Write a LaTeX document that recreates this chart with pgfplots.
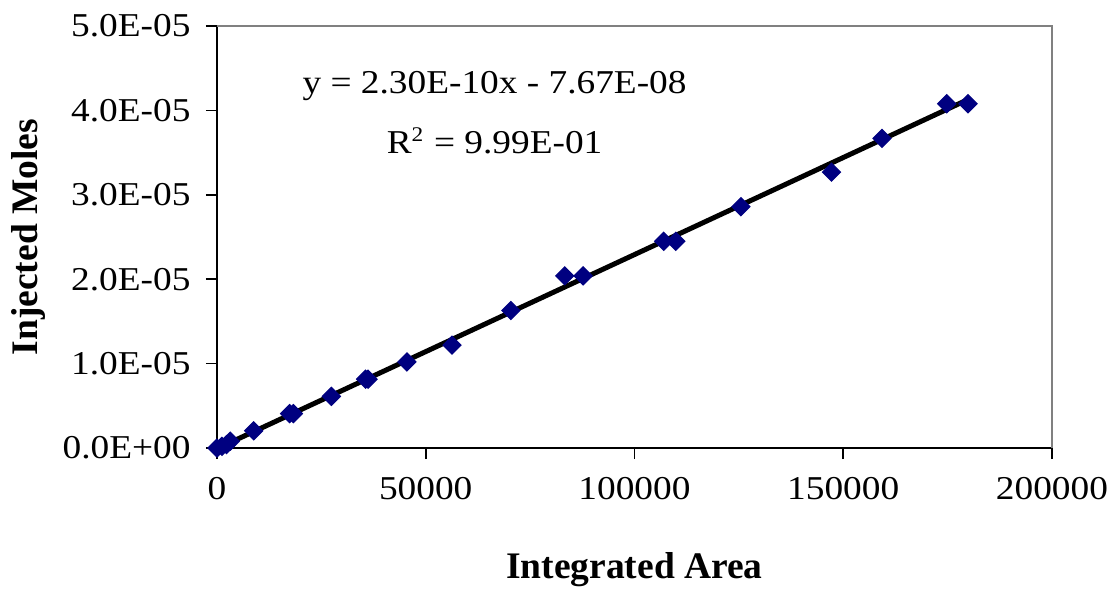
\documentclass[border=0pt]{standalone}
\usepackage{fontspec}
\setmainfont{Liberation Serif}
\newfontfamily\tickfont{Liberation Serif}[FakeStretch=1.12]
\usepackage{pgfplots}
\pgfplotsset{compat=1.18}
\usetikzlibrary{calc}
\definecolor{mknavy}{HTML}{000080}
\definecolor{framegray}{HTML}{808080}

\begin{document}
\begin{tikzpicture}
\begin{axis}[
  name=ax,
  scale only axis, width=300.6pt, height=151.9pt,
  xmin=0, xmax=200000, ymin=0, ymax=5e-5,
  axis lines*=left, axis line style={black, line width=0.7pt},
  tick align=outside, major tick length=4pt,
  tick style={black, line width=0.6pt},
  xtick={0,50000,100000,150000,200000},
  xticklabels={0,50000,100000,150000,200000},
  ytick={0,1e-5,2e-5,3e-5,4e-5,5e-5},
  yticklabels={0.0E+00,1.0E-05,2.0E-05,3.0E-05,4.0E-05,5.0E-05},
  scaled x ticks=false, scaled y ticks=false,
  tick label style={font=\tickfont\fontsize{12}{14}\selectfont},
  xticklabel style={yshift=-3.1pt},
  yticklabel style={xshift=-2pt},
  xlabel={Integrated Area}, ylabel={Injected Moles},
  label style={font=\bfseries\fontsize{13.5}{15}\selectfont},
  xlabel style={at={(axis description cs:0.5,-0.289)}, anchor=center},
  ylabel style={at={(axis description cs:-0.226,0.5)}, anchor=center},
  clip=false,
]
\draw[framegray, line width=0.6pt] (rel axis cs:0,1) -- (rel axis cs:1,1) -- (rel axis cs:1,0);
% trendline
\addplot[black, line width=1.8pt, no marks] coordinates {(0,-7.67e-8) (179900,4.130e-5)};
% measured points
\addplot[only marks, mark=square*, mark size=2.3pt, mark options={rotate=45, fill=mknavy, draw=mknavy}]
coordinates {
(0,0) (1200,2.04e-7) (2300,4.08e-7) (3200,8.16e-7)
(8800,2.04e-6) (17400,4.08e-6) (18300,4.08e-6)
(27400,6.12e-6) (35600,8.16e-6) (36200,8.16e-6)
(45500,1.02e-5) (56300,1.22e-5) (70400,1.63e-5)
(83300,2.04e-5) (87700,2.04e-5) (107000,2.45e-5) (109900,2.45e-5)
(125500,2.86e-5) (147200,3.27e-5) (159300,3.67e-5)
(174800,4.08e-5) (179900,4.08e-5)
};
\node[font=\tickfont\fontsize{12}{14}\selectfont] at (axis cs:66500,4.29e-5) {y = 2.30E-10x - 7.67E-08};
\node[font=\tickfont\fontsize{12}{14}\selectfont] at (axis cs:66500,3.64e-5) {R\textsuperscript{\fontsize{7.5}{9}\selectfont 2} = 9.99E-01};
\end{axis}
\pgfresetboundingbox
\path[use as bounding box] ($(ax.south west)+(-78.1pt,-51.5pt)$) rectangle ($(ax.north east)+(22.7pt,9.4pt)$);
\end{tikzpicture}
\end{document}
